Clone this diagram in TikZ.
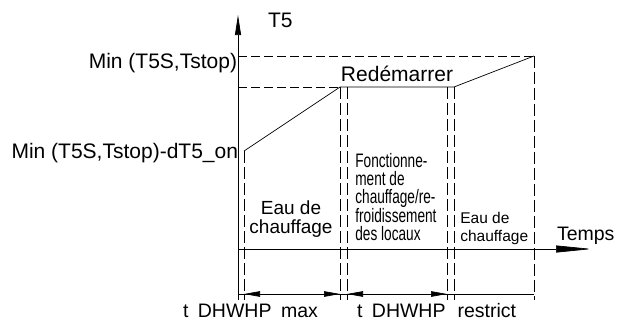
\documentclass[tikz,border=0pt]{standalone}
\usepackage{fontspec}
\setmainfont{Liberation Sans}
\newfontfamily\condfont[FakeStretch=0.7]{Liberation Sans}
\usetikzlibrary{arrows.meta}
\begin{document}
\begin{tikzpicture}[x=1pt,y=-1pt,line width=0.7pt,
  lbl/.style={inner sep=0pt,outer sep=0pt,font=\fontsize{21}{25}\selectfont},
  lblb/.style={inner sep=0pt,outer sep=0pt,font=\fontsize{19.5}{23}\selectfont},
  vdash/.style={dash pattern=on 12pt off 4pt},
  hdash/.style={dash pattern=on 9pt off 4pt},
  axarrow/.style={-{Triangle[length=20pt,width=6pt]}},
  tarrow/.style={-{Triangle[length=36pt,width=7pt]}},
  dimarrow/.style={{Triangle[length=16pt,width=5.5pt]}-{Triangle[length=16pt,width=5.5pt]}}]
\useasboundingbox (0,0) rectangle (621,322);
% key points
\coordinate (O) at (238,300);
\coordinate (Ytop) at (238,15);
\coordinate (Tl) at (238,249);
\coordinate (Tr) at (592,249);
\coordinate (A) at (244,151);
\coordinate (B) at (340,87);
\coordinate (B2) at (347,87);
\coordinate (C1) at (447,87);
\coordinate (C) at (454,87);
\coordinate (D) at (534,56);
\coordinate (Yhi) at (238,56);
\coordinate (Ymid) at (238,87);
% axes
\draw[axarrow] (O) -- (Ytop);
\draw[tarrow] (Tl) -- (Tr);
% reference dashed lines
\draw[hdash] (Yhi) -- (D);
\draw[hdash] (Ymid) -- (B);
\draw[vdash] (D) -- (534,300);
\draw[vdash] (A) -- (244,300);
\draw[vdash] (B) -- (340,300);
\draw[vdash] (B2) -- (347,300);
\draw[vdash] (C1) -- (447,300);
\draw[vdash] (C) -- (454,300);
% temperature curve
\draw (A) -- (B) -- (C) -- (D);
% dimension line
\draw (238,294) -- (534,294);
\draw[dimarrow] (244,294) -- (340,294);
\draw[dimarrow] (347,294) -- (447,294);
% labels
\node[lbl,anchor=base west] (t5) at (268,27) {T5};
\node[lbl,anchor=base east] (lmax) at (237,68) {Min (T5S,Tstop)};
\node[lbl,anchor=base east] (lmin) at (238,158) {Min (T5S,Tstop)-dT5\_on};
\node[lbl,anchor=base] (redem) at (397,81) {Redémarrer};
\node[lblb,anchor=base west] (temps) at (557,240) {Temps};
\node[inner sep=0pt,anchor=base,align=center,font=\fontsize{19}{19}\selectfont] (eau1) at (291,233) {Eau de\\chauffage};
\node[inner sep=0pt,anchor=base west,align=left,font=\condfont\fontsize{19.5}{17.75}\selectfont] (fonc) at (355,240) {Fonctionne-\\ment de\\chauffage/re-\\froidissement\\des locaux};
\node[inner sep=0pt,anchor=base west,align=left,font=\fontsize{15.5}{18}\selectfont] (eau2) at (460,241) {Eau de\\chauffage};
\node[lblb,anchor=base west] (dmax) at (183,317) {t\hspace{9.5pt}DHWHP\hspace{9.5pt}max};
\node[lblb,anchor=base west] (drest) at (357,317) {t\hspace{9.5pt}DHWHP\hspace{12pt}restrict};
\end{tikzpicture}
\end{document}
